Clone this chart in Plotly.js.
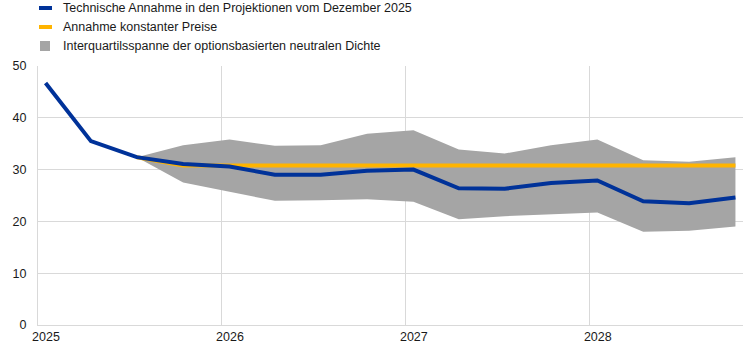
<!DOCTYPE html>
<html>
<head>
<meta charset="utf-8">
<script src="https://cdn.plot.ly/plotly-3.0.1.min.js"></script>
<style>html,body{margin:0;padding:0;background:#fff;}#chart{width:756px;height:351px;}</style>
</head>
<body>
<div id="chart"></div>
<script>
// Quarterly observation dates
const dates = ["2025-01-16","2025-04-16","2025-07-16","2025-10-16",
               "2026-01-16","2026-04-16","2026-07-16","2026-10-16",
               "2027-01-16","2027-04-16","2027-07-16","2027-10-16",
               "2028-01-16","2028-04-16","2028-07-16","2028-10-16"];
// Technical assumption (Dec 2025 projections)
const technical = [46.7, 35.5, 32.4, 31.1, 30.6, 29.0, 29.0, 29.8, 30.0, 26.4, 26.3, 27.4, 27.9, 23.9, 23.5, 24.6];
// Constant price assumption
const constDates = dates.slice(2);
const constant = [32.4, 30.8, 30.8, 30.8, 30.8, 30.8, 30.8, 30.8, 30.8, 30.8, 30.8, 30.8, 30.8, 30.8];
// Interquartile range of option-implied neutral density
const bandDates = dates.slice(2);
const bandLow  = [32.4, 27.5, 25.7, 24.0, 24.1, 24.3, 23.8, 20.4, 21.0, 21.4, 21.7, 18.0, 18.2, 19.0];
const bandHigh = [32.4, 34.7, 35.8, 34.6, 34.7, 36.9, 37.6, 33.9, 33.1, 34.7, 35.8, 31.8, 31.5, 32.4];
const yTicks = [0, 10, 20, 30, 40, 50];
const xTickVals = ["2025-01-01","2026-01-01","2027-01-01","2028-01-01"];
const xTickText = ["2025","2026","2027","2028"];
const legendLabels = ["Technische Annahme in den Projektionen vom Dezember 2025",
                      "Annahme konstanter Preise",
                      "Interquartilsspanne der optionsbasierten neutralen Dichte"];

const BLUE = "#003299", ORANGE = "#ffb400", GREY = "#a5a5a5";
const FONT = "Liberation Sans, Arial, sans-serif";
const FS = 12.5;

const traces = [
  {x: bandDates, y: bandLow, type: "scatter", mode: "lines", line: {width: 0, color: GREY}, hoverinfo: "skip", showlegend: false},
  {x: bandDates, y: bandHigh, type: "scatter", mode: "lines", fill: "tonexty", fillcolor: GREY, line: {width: 0, color: GREY}, showlegend: false, name: legendLabels[2]},
  {x: constDates, y: constant, type: "scatter", mode: "lines", line: {width: 4, color: ORANGE}, showlegend: false, name: legendLabels[1]},
  {x: dates, y: technical, type: "scatter", mode: "lines", line: {width: 4, color: BLUE}, showlegend: false, name: legendLabels[0]}
];

// Custom legend (pixel layout converted to paper coords)
const L = 38, R = 743, T = 66, B = 325;
const px = v => (v - L) / (R - L);
const py = v => (B - v) / (B - T);
const rows = [8, 27, 46];
const shapes = [
  {type: "line", xref: "paper", yref: "paper", x0: px(39), x1: px(52), y0: py(rows[0]), y1: py(rows[0]), line: {color: BLUE, width: 4}},
  {type: "line", xref: "paper", yref: "paper", x0: px(39), x1: px(52), y0: py(rows[1]), y1: py(rows[1]), line: {color: ORANGE, width: 4}},
  {type: "rect", xref: "paper", yref: "paper", x0: px(40), x1: px(50), y0: py(rows[2] - 5), y1: py(rows[2] + 5), line: {width: 0}, fillcolor: GREY}
];
const annotations = legendLabels.map((t, i) => ({
  text: t, xref: "paper", yref: "paper", x: px(61), y: py(rows[i]), xanchor: "left", yanchor: "middle",
  showarrow: false, font: {family: FONT, size: FS, color: "#1a1a1a"}
}));

const layout = {
  width: 756, height: 351,
  margin: {l: L, r: 756 - R, t: T, b: 351 - B, pad: 0},
  paper_bgcolor: "#fff", plot_bgcolor: "#fff",
  showlegend: false,
  font: {family: FONT, size: FS, color: "#1a1a1a"},
  xaxis: {
    type: "date", range: ["2025-01-01", "2028-10-31"],
    tickvals: xTickVals, ticktext: xTickText, ticklabelshift: 8,
    showgrid: true, gridcolor: "#d9d9d9", gridwidth: 1,
    showline: true, linecolor: "#d9d9d9", linewidth: 1,
    ticks: "", zeroline: false, fixedrange: true,
    tickfont: {family: FONT, size: FS, color: "#1a1a1a"}
  },
  yaxis: {
    range: [0, 50], tickvals: yTicks,
    showgrid: true, gridcolor: "#d9d9d9", gridwidth: 1,
    showline: true, linecolor: "#d9d9d9", linewidth: 1,
    ticks: "", zeroline: false, ticklabelstandoff: 8, fixedrange: true,
    tickfont: {family: FONT, size: FS, color: "#1a1a1a"}
  },
  shapes: shapes,
  annotations: annotations
};

Plotly.newPlot("chart", traces, layout, {displayModeBar: false, staticPlot: true});
</script>
</body>
</html>
